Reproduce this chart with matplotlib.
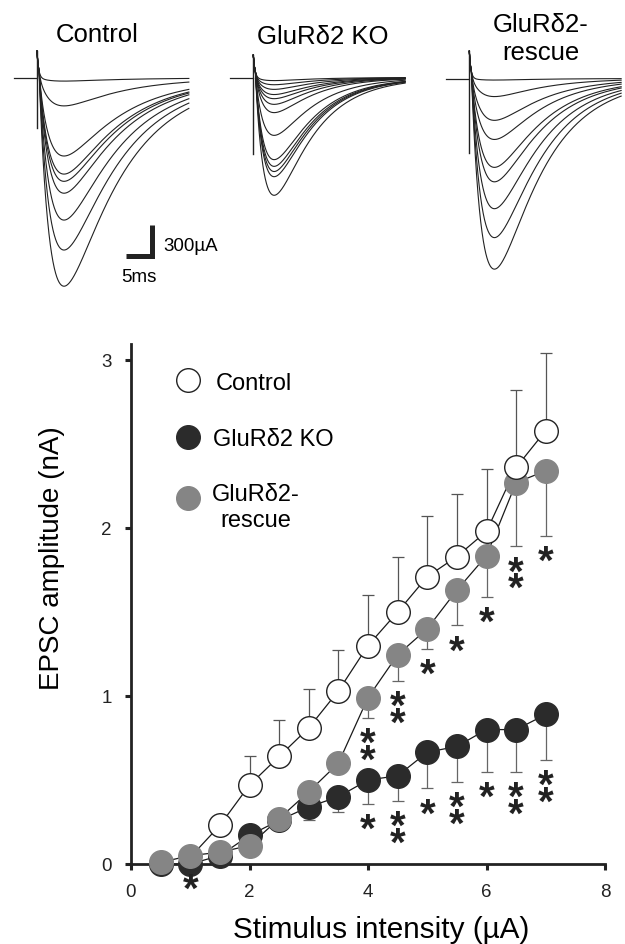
import numpy as np
import matplotlib
matplotlib.use("Agg")
import matplotlib.pyplot as plt

plt.rcParams["font.family"] = ["Liberation Sans", "DejaVu Sans"]

W, H = 625, 945  # figure size in pixels

# ---- dose-response data (stimulus intensity in uA, EPSC amplitude in nA) ----
stim = [0.5, 1.0, 1.5, 2.0, 2.5, 3.0, 3.5, 4.0, 4.5, 5.0, 5.5, 6.0, 6.5, 7.0]

ctrl_stim = [1.0, 1.5, 2.0, 2.5, 3.0, 3.5, 4.0, 4.5, 5.0, 5.5, 6.0, 6.5, 7.0]
ctrl_mean = [0.04, 0.23, 0.47, 0.64, 0.81, 1.03, 1.30, 1.50, 1.71, 1.83, 1.98, 2.36, 2.58]
ctrl_sem = [0.0, 0.02, 0.17, 0.22, 0.23, 0.245, 0.30, 0.33, 0.36, 0.37, 0.37, 0.46, 0.46]

ko_mean = [0.0, 0.0, 0.05, 0.17, 0.26, 0.34, 0.40, 0.50, 0.525, 0.665, 0.70, 0.80, 0.80, 0.89]
ko_sem = [0.0, 0.0, 0.0, 0.0, 0.02, 0.08, 0.09, 0.14, 0.15, 0.215, 0.21, 0.25, 0.25, 0.27]
ko_stars = [0, 1, 0, 0, 0, 0, 0, 1, 2, 1, 2, 1, 2, 2]

res_mean = [0.01, 0.05, 0.07, 0.11, 0.27, 0.43, 0.60, 0.99, 1.245, 1.40, 1.63, 1.835, 2.27, 2.34]
res_sem = [0.0, 0.0, 0.0, 0.0, 0.0, 0.0, 0.05, 0.12, 0.155, 0.12, 0.21, 0.245, 0.38, 0.385]
res_stars = [0, 0, 0, 0, 0, 0, 0, 2, 2, 1, 1, 1, 2, 1]

# ---- example EPSC traces: peak amplitude of each sweep (scale-bar units) ----
ctrl_peaks = [30, 270, 755, 930, 1000, 1115, 1375, 1665, 2015]
ko_peaks = [30, 70, 115, 165, 205, 260, 340, 560, 795, 860, 910, 960, 1140]
res_peaks = [15, 175, 405, 590, 860, 1000, 1260, 1540, 1845]

scale_ms, scale_ua = 5, 300

fig = plt.figure(figsize=(W / 100, H / 100), dpi=100)


def fx(px):
    return px / W


def fy(py):
    return 1 - py / H


MS_PER_PX = scale_ms / 26.0
UA_PER_PX = scale_ua / 31.0
t_pre = np.array([-4.4, 0.0])
t = np.linspace(0, 29.2, 800)


def epsc(amp, tau_r, tau_d, delay):
    tt = np.clip(t - delay, 0, None)
    tpk = np.log(tau_d / tau_r) * tau_r * tau_d / (tau_d - tau_r)
    norm = np.exp(-tpk / tau_d) - np.exp(-tpk / tau_r)
    return -amp * (np.exp(-tt / tau_d) - np.exp(-tt / tau_r)) / norm


def trace_panel(art_px, base_px, peaks, up, down, tau_r, tau_d):
    tax = fig.add_axes([fx(art_px - 30), fy(300), 190 / W, 260 / H])
    tax.set_xlim(-30 * MS_PER_PX, 160 * MS_PER_PX)
    tax.set_ylim(-(300 - base_px) * UA_PER_PX, (base_px - 40) * UA_PER_PX)
    tax.axis("off")
    tax.plot(t_pre, [0, 0], color="#222222", lw=0.9)
    tax.plot([0, 0], [-down, up], color="#222222", lw=1.0)
    for a in peaks:
        y = up * np.exp(-t / 0.3) + epsc(a, tau_r, tau_d, 0.4)
        tax.plot(t, y, color="#222222", lw=0.8)
    return tax


cax = trace_panel(37, 79, ctrl_peaks, 261, 484, 2.5, 11.0)
trace_panel(253.3, 78.5, ko_peaks, 216, 745, 2.0, 7.5)
trace_panel(469.3, 79.5, res_peaks, 264, 719, 2.5, 9.0)

# scale bar
xc = (152 - 37) * MS_PER_PX
yc = (79 - 256.5) * UA_PER_PX
cax.plot([xc - scale_ms, xc, xc], [yc, yc, yc + scale_ua], color="#222222",
         lw=3.6, solid_joinstyle="miter", solid_capstyle="butt", clip_on=False)
cax.text(xc + 2.1, yc + 95, f"{scale_ua}µA", fontsize=13.5, va="center", ha="left")
cax.text(xc - 2.5, yc - 200, f"{scale_ms}ms", fontsize=13.5, va="center", ha="center")

fig.text(fx(97), fy(33), "Control", fontsize=18.5, ha="center", va="center_baseline")
fig.text(fx(323), fy(35), "GluRδ2 KO", fontsize=18.5, ha="center", va="center_baseline")
fig.text(fx(541), fy(23), "GluRδ2-", fontsize=18.5, ha="center", va="center_baseline")
fig.text(fx(541), fy(50), "rescue", fontsize=18.5, ha="center", va="center_baseline")

# ---- dose-response plot ----
ax = fig.add_axes([fx(131), fy(865), 474 / W, 520 / H])
ax.set_xlim(0, 8)
ax.set_ylim(0, 3.095)
for s in ["top", "right"]:
    ax.spines[s].set_visible(False)
for s in ["left", "bottom"]:
    ax.spines[s].set_linewidth(2)
    ax.spines[s].set_color("#222222")
ax.set_xticks([0, 2, 4, 6, 8])
ax.set_yticks([0, 1, 2, 3])
ax.tick_params(direction="out", length=4, width=2.2, color="#222222",
               labelsize=13.5, pad=10, labelcolor="#222222")

zeros = lambda v: [0] * len(v)
ax.errorbar(ctrl_stim, ctrl_mean, yerr=[zeros(ctrl_sem), ctrl_sem], fmt="none",
            ecolor="#555555", elinewidth=0.9, capsize=4, capthick=0.9, zorder=1)
ax.errorbar(stim, ko_mean, yerr=[ko_sem, zeros(ko_sem)], fmt="none",
            ecolor="#666666", elinewidth=0.9, capsize=4, capthick=0.9, zorder=1)
ax.errorbar(stim, res_mean, yerr=[res_sem, zeros(res_sem)], fmt="none",
            ecolor="#666666", elinewidth=0.9, capsize=4, capthick=0.9, zorder=1)

for xs, ys in [(stim, ko_mean), (stim, res_mean), (ctrl_stim, ctrl_mean)]:
    ax.plot(xs, ys, color="#1a1a1a", lw=0.9, zorder=2, clip_on=False)

ms = 17
ax.plot(stim, ko_mean, ls="none", marker="o", ms=ms, mfc="#2b2b2b", mec="#2b2b2b",
        zorder=3, clip_on=False)
ax.plot(stim, res_mean, ls="none", marker="o", ms=ms, mfc="#858585", mec="#858585",
        zorder=4, clip_on=False)
ax.plot(ctrl_stim, ctrl_mean, ls="none", marker="o", ms=ms, mfc="white", mec="#222222",
        mew=1.0, markevery=range(1, len(ctrl_stim)), zorder=5, clip_on=False)

# significance asterisks below the error bars (stacked in one text per point)
star_fs = 29
for means, sems, stars in [(ko_mean, ko_sem, ko_stars), (res_mean, res_sem, res_stars)]:
    for x, m, e, n in zip(stim, means, sems, stars):
        if n == 0:
            continue
        ax.annotate("\n".join(["*"] * n), xy=(x, m - e - 0.08),
                    xytext=(0, 0.16 * star_fs), textcoords="offset points",
                    ha="center", va="top", linespacing=0.29,
                    fontsize=star_fs, fontweight="bold", color="#222222",
                    annotation_clip=False, zorder=6)

# legend drawn by hand
leg_x = 0.96
ax.plot([leg_x], [2.88], marker="o", ms=ms, mfc="white", mec="#222222", mew=1.0, clip_on=False)
ax.plot([leg_x], [2.54], marker="o", ms=ms, mfc="#2b2b2b", mec="#2b2b2b", clip_on=False)
ax.plot([leg_x], [2.18], marker="o", ms=ms, mfc="#858585", mec="#858585", clip_on=False)
ax.text(1.435, 2.88, "Control", fontsize=17, va="center_baseline", ha="left")
ax.text(1.385, 2.545, "GluRδ2 KO", fontsize=17, va="center_baseline", ha="left")
ax.text(2.1, 2.22, "GluRδ2-", fontsize=17, va="center_baseline", ha="center")
ax.text(2.1, 2.065, "rescue", fontsize=17, va="center_baseline", ha="center")

fig.text(fx(381), fy(938), "Stimulus intensity (µA)", fontsize=21.4, ha="center",
         va="baseline")
fig.text(fx(52), fy(558), "EPSC amplitude (nA)", fontsize=20, rotation=90,
         ha="center", va="center")

fig.savefig("out.png", dpi=100)
